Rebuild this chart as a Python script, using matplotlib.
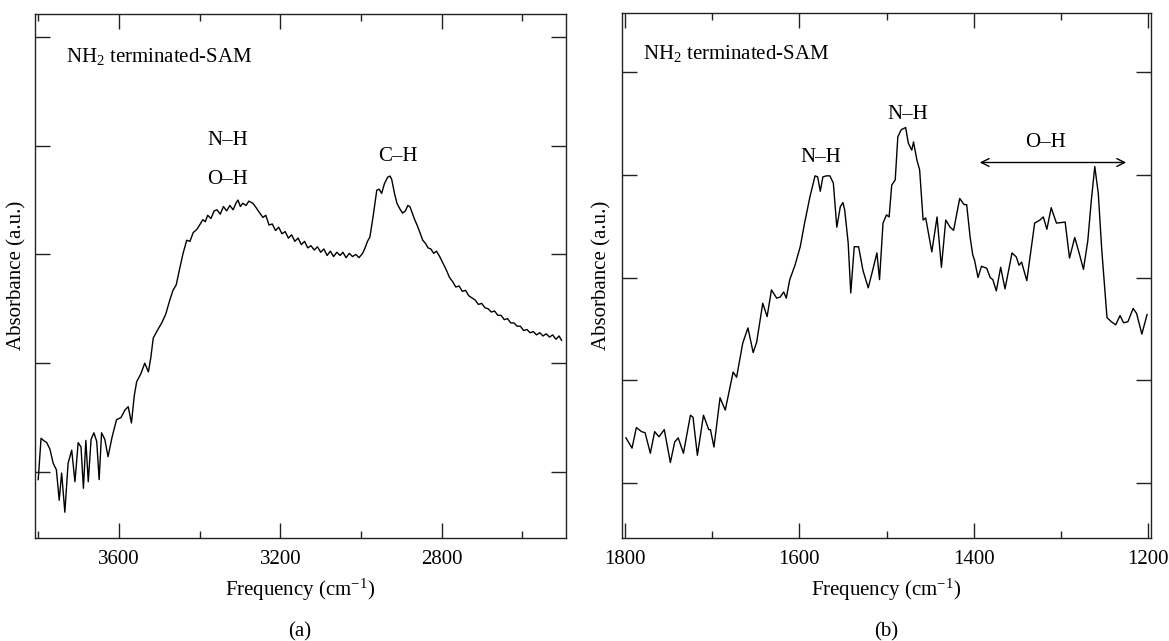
import matplotlib
matplotlib.use("Agg")
import matplotlib.pyplot as plt
from matplotlib.ticker import FixedLocator

plt.rcParams['font.family'] = ['Liberation Serif', 'DejaVu Serif']
plt.rcParams['mathtext.fontset'] = 'custom'
plt.rcParams['mathtext.rm'] = 'Liberation Serif'
plt.rcParams['mathtext.it'] = 'Liberation Serif:italic'

# ---------------- Panel (a) data ----------------
freq_a = [3800, 3793, 3787, 3779, 3771, 3763, 3755, 3748, 3742, 3734, 3726, 3717, 3709, 3701,
          3694, 3688, 3682, 3676, 3669, 3662, 3655, 3649, 3643, 3635, 3627, 3617, 3606, 3595,
          3585, 3577, 3569, 3562, 3556, 3546, 3536, 3527, 3521, 3515, 3505, 3494, 3484, 3474,
          3466, 3458, 3450, 3441, 3432, 3424, 3416, 3407, 3400, 3392, 3386, 3380, 3372, 3364,
          3357, 3349, 3341, 3333, 3325, 3317, 3310, 3305, 3299, 3293, 3285, 3278, 3268, 3260,
          3251, 3243, 3236, 3228, 3220, 3212, 3204, 3196, 3188, 3180, 3172, 3164, 3156, 3148,
          3140, 3132, 3124, 3116, 3108, 3100, 3092, 3084, 3076, 3068, 3060, 3052, 3045, 3037,
          3029, 3021, 3013, 3005, 2996, 2990, 2984, 2978, 2970, 2961, 2955, 2949, 2942, 2934,
          2928, 2924, 2917, 2911, 2904, 2897, 2890, 2884, 2879, 2872, 2867, 2860, 2854, 2847,
          2840, 2834, 2827, 2820, 2813, 2805, 2797, 2789, 2781, 2773, 2765, 2757, 2749, 2741,
          2733, 2725, 2717, 2709, 2701, 2693, 2685, 2677, 2669, 2661, 2653, 2645, 2637, 2629,
          2621, 2613, 2605, 2597, 2589, 2581, 2573, 2565, 2557, 2549, 2541, 2533, 2525, 2517,
          2509, 2503]
abs_a = [0.93, 1.31, 1.29, 1.27, 1.21, 1.08, 1.02, 0.74, 0.99, 0.63, 1.08, 1.20, 0.91, 1.27,
         1.23, 0.85, 1.29, 0.91, 1.30, 1.36, 1.28, 0.93, 1.36, 1.30, 1.14, 1.32, 1.48, 1.50,
         1.57, 1.60, 1.45, 1.70, 1.83, 1.90, 2.00, 1.92, 2.05, 2.23, 2.30, 2.37, 2.45, 2.58,
         2.67, 2.72, 2.86, 3.01, 3.13, 3.12, 3.20, 3.23, 3.27, 3.32, 3.30, 3.36, 3.33, 3.40,
         3.41, 3.37, 3.44, 3.40, 3.45, 3.41, 3.47, 3.50, 3.44, 3.47, 3.45, 3.49, 3.47, 3.43,
         3.38, 3.34, 3.36, 3.27, 3.28, 3.22, 3.25, 3.19, 3.21, 3.15, 3.18, 3.12, 3.15, 3.09,
         3.12, 3.06, 3.08, 3.04, 3.07, 3.02, 3.05, 2.99, 3.03, 2.98, 3.02, 2.99, 3.02, 2.97,
         3.01, 2.98, 3.00, 2.97, 3.01, 3.06, 3.12, 3.16, 3.35, 3.59, 3.60, 3.56, 3.65, 3.71,
         3.72, 3.69, 3.56, 3.47, 3.42, 3.38, 3.40, 3.45, 3.44, 3.37, 3.32, 3.26, 3.20, 3.13,
         3.10, 3.06, 3.05, 3.01, 3.03, 2.98, 2.92, 2.86, 2.79, 2.75, 2.70, 2.71, 2.66, 2.67,
         2.62, 2.60, 2.58, 2.54, 2.55, 2.51, 2.50, 2.47, 2.48, 2.44, 2.44, 2.40, 2.41, 2.37,
         2.37, 2.34, 2.34, 2.30, 2.31, 2.28, 2.29, 2.26, 2.28, 2.25, 2.27, 2.24, 2.26, 2.22,
         2.25, 2.21]

# ---------------- Panel (b) data ----------------
freq_b = [1799, 1792, 1787, 1781, 1777, 1771, 1766, 1761, 1755, 1748, 1743, 1739, 1733, 1725,
          1722, 1717, 1710, 1704, 1702, 1698, 1691, 1685, 1676, 1672, 1665, 1659, 1653, 1649,
          1642, 1637, 1632, 1626, 1622, 1618, 1615, 1611, 1605, 1599, 1594, 1588, 1582, 1579,
          1576, 1573, 1569, 1565, 1561, 1557, 1553, 1550, 1548, 1544, 1541, 1537, 1532, 1527,
          1521, 1515, 1511, 1508, 1504, 1500, 1497, 1494, 1490, 1487, 1483, 1478, 1475, 1471,
          1469, 1465, 1462, 1458, 1455, 1448, 1442, 1437, 1432, 1427, 1423, 1416, 1411, 1408,
          1404, 1401, 1399, 1395, 1391, 1385, 1381, 1378, 1374, 1369, 1364, 1356, 1351, 1348,
          1345, 1339, 1330, 1324, 1320, 1316, 1311, 1305, 1295, 1290, 1284, 1279, 1274, 1269,
          1265, 1261, 1257, 1253, 1247, 1242, 1237, 1232, 1228, 1223, 1217, 1213, 1207, 1201]
abs_b = [1.44, 1.34, 1.54, 1.50, 1.49, 1.29, 1.50, 1.45, 1.52, 1.20, 1.40, 1.44, 1.29, 1.66,
         1.64, 1.27, 1.66, 1.52, 1.52, 1.35, 1.83, 1.71, 2.08, 2.03, 2.36, 2.51, 2.27, 2.37,
         2.75, 2.62, 2.88, 2.80, 2.81, 2.86, 2.80, 2.98, 3.12, 3.30, 3.53, 3.78, 3.99, 3.98,
         3.84, 3.98, 3.99, 3.99, 3.92, 3.49, 3.69, 3.73, 3.66, 3.34, 2.85, 3.30, 3.30, 3.07,
         2.90, 3.10, 3.24, 2.98, 3.53, 3.61, 3.59, 3.90, 3.95, 4.37, 4.44, 4.46, 4.31, 4.24,
         4.32, 4.14, 4.05, 3.56, 3.58, 3.25, 3.59, 3.10, 3.56, 3.49, 3.46, 3.77, 3.71, 3.71,
         3.39, 3.22, 3.17, 3.00, 3.11, 3.09, 3.00, 2.98, 2.87, 3.10, 2.89, 3.24, 3.20, 3.12,
         3.15, 2.97, 3.53, 3.56, 3.59, 3.47, 3.68, 3.53, 3.54, 3.19, 3.39, 3.24, 3.08, 3.36,
         3.75, 4.08, 3.82, 3.27, 2.61, 2.57, 2.54, 2.63, 2.56, 2.57, 2.70, 2.65, 2.45, 2.64]

W, H = 1169, 641
fig = plt.figure(figsize=(W / 100, H / 100), dpi=100)

def px_axes(l, t, r, b):
    return fig.add_axes([l / W, 1 - b / H, (r - l) / W, (b - t) / H])

ax_a = px_axes(35, 14, 566, 538)
ax_b = px_axes(622, 12.5, 1151, 538)

FS = 15
for ax in (ax_a, ax_b):
    for s in ax.spines.values():
        s.set_linewidth(1.0)
        s.set_color('#222222')
    ax.tick_params(axis='both', which='both', direction='in', top=True, right=True,
                   width=1.0, color='#222222', labelsize=FS)
    ax.tick_params(axis='x', which='major', length=11, pad=9)
    ax.tick_params(axis='x', which='minor', length=5)
    ax.tick_params(axis='y', which='major', length=11, labelleft=False)

# Panel a
ax_a.plot(freq_a, abs_a, color='black', lw=1.0)
ax_a.set_xlim(3808, 2492)
ax_a.set_ylim(0.393, 5.21)
ax_a.xaxis.set_major_locator(FixedLocator([3600, 3200, 2800]))
ax_a.xaxis.set_minor_locator(FixedLocator([3800, 3400, 3000, 2600]))
ax_a.yaxis.set_major_locator(FixedLocator([1, 2, 3, 4, 5]))
ax_a.text(3731, 4.82, r'NH$_2$ terminated-SAM', fontsize=FS, va='center', ha='left')
ax_a.text(3330, 4.05, 'N–H', fontsize=FS, va='center', ha='center')
ax_a.text(3330, 3.69, 'O–H', fontsize=FS, va='center', ha='center')
ax_a.text(2909, 3.90, 'C–H', fontsize=FS, va='center', ha='center')

# Panel b
ax_b.plot(freq_b, abs_b, color='black', lw=1.0)
ax_b.set_xlim(1803.5, 1196.5)
ax_b.set_ylim(0.465, 5.58)
ax_b.xaxis.set_major_locator(FixedLocator([1800, 1600, 1400, 1200]))
ax_b.xaxis.set_minor_locator(FixedLocator([1700, 1500, 1300]))
ax_b.yaxis.set_major_locator(FixedLocator([1, 2, 3, 4, 5]))
ax_b.text(1779, 5.18, r'NH$_2$ terminated-SAM', fontsize=FS, va='center', ha='left')
ax_b.text(1576, 4.17, 'N–H', fontsize=FS, va='center', ha='center')
ax_b.text(1476, 4.59, 'N–H', fontsize=FS, va='center', ha='center')
ax_b.text(1317, 4.31, 'O–H', fontsize=FS, va='center', ha='center')
ax_b.annotate('', xy=(1225, 4.12), xytext=(1393, 4.12),
              arrowprops=dict(arrowstyle='<->', color='black', lw=1.0,
                              shrinkA=0, shrinkB=0, mutation_scale=14))

# Axis labels and captions
fig.text(17 / W, 1 - 275 / H, 'Absorbance (a.u.)', rotation=90, fontsize=FS,
         ha='center', va='center')
fig.text(602 / W, 1 - 275 / H, 'Absorbance (a.u.)', rotation=90, fontsize=FS,
         ha='center', va='center')
fig.text(300 / W, 1 - 590 / H, r'Frequency (cm$^{-1}$)', fontsize=FS, ha='center', va='center')
fig.text(886 / W, 1 - 590 / H, r'Frequency (cm$^{-1}$)', fontsize=FS, ha='center', va='center')
fig.text(300 / W, 1 - 632 / H, '(a)', fontsize=FS, ha='center', va='center')
fig.text(886 / W, 1 - 632 / H, '(b)', fontsize=FS, ha='center', va='center')

fig.savefig('out.png', dpi=100)
